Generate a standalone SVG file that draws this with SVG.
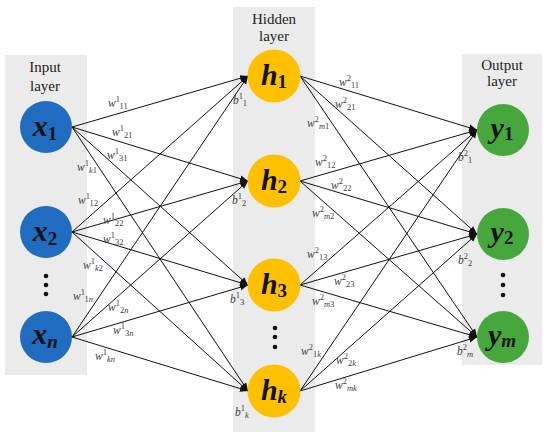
<svg xmlns="http://www.w3.org/2000/svg" width="550" height="437" viewBox="0 0 550 437">
<style>
.panel{fill:#ebebeb}
.ttl{font-family:"Liberation Serif",serif;font-size:15px;fill:#222;text-anchor:middle}
.nl{font-family:"Liberation Serif",serif;font-weight:bold;font-style:italic;font-size:30px;fill:#111;text-anchor:middle}
.ns{font-style:normal;font-size:19px}
.nsi{font-size:19px}
.w{font-family:"Liberation Serif",serif;font-size:11.5px;fill:#404040}
.i{font-style:italic}
.sm{font-size:8.5px}
.c line{stroke:#111;stroke-width:1}
.dot{fill:#111}
</style>
<defs>
<marker id="ah" viewBox="0 0 10 10" refX="10" refY="5" markerWidth="8" markerHeight="8" markerUnits="userSpaceOnUse" orient="auto">
<path d="M0,1 L10,5 L0,9 Z" fill="#111"/>
</marker>
</defs>
<rect class="panel" x="5" y="55" width="82" height="320"/>
<rect class="panel" x="233" y="7" width="82" height="425"/>
<rect class="panel" x="462" y="54" width="80" height="311"/>
<text class="ttl" x="45" y="72">Input</text>
<text class="ttl" x="45" y="91">layer</text>
<text class="ttl" x="274" y="24">Hidden</text>
<text class="ttl" x="274" y="41">layer</text>
<text class="ttl" x="502" y="70">Output</text>
<text class="ttl" x="502" y="86">layer</text>
<g class="c" id="connectors">
<line x1="72" y1="127" x2="248" y2="76" marker-end="url(#ah)"/>
<line x1="72" y1="127" x2="248" y2="181" marker-end="url(#ah)"/>
<line x1="72" y1="127" x2="248" y2="285" marker-end="url(#ah)"/>
<line x1="72" y1="127" x2="248" y2="391" marker-end="url(#ah)"/>
<line x1="72" y1="232" x2="248" y2="76" marker-end="url(#ah)"/>
<line x1="72" y1="232" x2="248" y2="181" marker-end="url(#ah)"/>
<line x1="72" y1="232" x2="248" y2="285" marker-end="url(#ah)"/>
<line x1="72" y1="232" x2="248" y2="391" marker-end="url(#ah)"/>
<line x1="72" y1="337" x2="248" y2="76" marker-end="url(#ah)"/>
<line x1="72" y1="337" x2="248" y2="181" marker-end="url(#ah)"/>
<line x1="72" y1="337" x2="248" y2="285" marker-end="url(#ah)"/>
<line x1="72" y1="337" x2="248" y2="391" marker-end="url(#ah)"/>
<line x1="300" y1="76" x2="477" y2="130" marker-end="url(#ah)"/>
<line x1="300" y1="76" x2="477" y2="234" marker-end="url(#ah)"/>
<line x1="300" y1="76" x2="477" y2="337" marker-end="url(#ah)"/>
<line x1="300" y1="181" x2="477" y2="130" marker-end="url(#ah)"/>
<line x1="300" y1="181" x2="477" y2="234" marker-end="url(#ah)"/>
<line x1="300" y1="181" x2="477" y2="337" marker-end="url(#ah)"/>
<line x1="300" y1="285" x2="477" y2="130" marker-end="url(#ah)"/>
<line x1="300" y1="285" x2="477" y2="234" marker-end="url(#ah)"/>
<line x1="300" y1="285" x2="477" y2="337" marker-end="url(#ah)"/>
<line x1="300" y1="391" x2="477" y2="130" marker-end="url(#ah)"/>
<line x1="300" y1="391" x2="477" y2="234" marker-end="url(#ah)"/>
<line x1="300" y1="391" x2="477" y2="337" marker-end="url(#ah)"/>
</g>
<g id="x1"><circle cx="46" cy="127" r="26" fill="#1f6cc0"/><text class="nl" x="45" y="136">x<tspan class="ns" dy="4">1</tspan></text></g>
<g id="x2"><circle cx="46" cy="232" r="26" fill="#1f6cc0"/><text class="nl" x="45" y="241">x<tspan class="ns" dy="4">2</tspan></text></g>
<g id="xn"><circle cx="46" cy="337" r="26" fill="#1f6cc0"/><text class="nl" x="45" y="344">x<tspan class="nsi" dy="4">n</tspan></text></g>
<g id="input-dots"><circle class="dot" cx="46" cy="276" r="2.3"/><circle class="dot" cx="46" cy="285" r="2.3"/><circle class="dot" cx="46" cy="294" r="2.3"/></g>
<g id="h1"><circle cx="274" cy="76" r="26.5" fill="#ffc000"/><text class="nl" x="274" y="85">h<tspan class="ns" dy="3">1</tspan></text></g>
<g id="h2"><circle cx="274" cy="181" r="26.5" fill="#ffc000"/><text class="nl" x="274" y="190">h<tspan class="ns" dy="3">2</tspan></text></g>
<g id="h3"><circle cx="274" cy="285" r="26.5" fill="#ffc000"/><text class="nl" x="274" y="294">h<tspan class="ns" dy="3">3</tspan></text></g>
<g id="hk"><circle cx="274" cy="391" r="26.5" fill="#ffc000"/><text class="nl" x="274" y="400">h<tspan class="nsi" dy="3">k</tspan></text></g>
<g id="hidden-dots"><circle class="dot" cx="275" cy="328" r="2.3"/><circle class="dot" cx="275" cy="337" r="2.3"/><circle class="dot" cx="275" cy="347" r="2.3"/></g>
<g id="y1"><circle cx="503" cy="130" r="26" fill="#46a83c"/><text class="nl" x="502" y="138">y<tspan class="ns" dy="2">1</tspan></text></g>
<g id="y2"><circle cx="503" cy="234" r="26" fill="#46a83c"/><text class="nl" x="502" y="242">y<tspan class="ns" dy="2">2</tspan></text></g>
<g id="ym"><circle cx="503" cy="337" r="26" fill="#46a83c"/><text class="nl" x="502" y="345">y<tspan class="nsi" dy="2">m</tspan></text></g>
<g id="output-dots"><circle class="dot" cx="503" cy="275" r="2.3"/><circle class="dot" cx="503" cy="285" r="2.3"/><circle class="dot" cx="503" cy="295" r="2.3"/></g>
<g id="weights1">
<text class="w" x="108" y="107"><tspan class="i">w</tspan><tspan class="sm" dy="-5">1</tspan><tspan class="sm" dy="7">11</tspan></text>
<text class="w" x="112" y="136"><tspan class="i">w</tspan><tspan class="sm" dy="-5">1</tspan><tspan class="sm" dy="7">21</tspan></text>
<text class="w" x="107" y="159"><tspan class="i">w</tspan><tspan class="sm" dy="-5">1</tspan><tspan class="sm" dy="7">31</tspan></text>
<text class="w" x="77" y="171"><tspan class="i">w</tspan><tspan class="sm" dy="-5">1</tspan><tspan class="sm i" dy="7">k</tspan><tspan class="sm">1</tspan></text>
<text class="w" x="78" y="204"><tspan class="i">w</tspan><tspan class="sm" dy="-5">1</tspan><tspan class="sm" dy="7">12</tspan></text>
<text class="w" x="103" y="224"><tspan class="i">w</tspan><tspan class="sm" dy="-5">1</tspan><tspan class="sm" dy="7">22</tspan></text>
<text class="w" x="103" y="243"><tspan class="i">w</tspan><tspan class="sm" dy="-5">1</tspan><tspan class="sm" dy="7">32</tspan></text>
<text class="w" x="83" y="269"><tspan class="i">w</tspan><tspan class="sm" dy="-5">1</tspan><tspan class="sm i" dy="7">k</tspan><tspan class="sm">2</tspan></text>
<text class="w" x="73" y="300"><tspan class="i">w</tspan><tspan class="sm" dy="-5">1</tspan><tspan class="sm" dy="7">1</tspan><tspan class="sm i">n</tspan></text>
<text class="w" x="108" y="311"><tspan class="i">w</tspan><tspan class="sm" dy="-5">1</tspan><tspan class="sm" dy="7">2</tspan><tspan class="sm i">n</tspan></text>
<text class="w" x="113" y="334"><tspan class="i">w</tspan><tspan class="sm" dy="-5">1</tspan><tspan class="sm" dy="7">3</tspan><tspan class="sm i">n</tspan></text>
<text class="w" x="95" y="360"><tspan class="i">w</tspan><tspan class="sm" dy="-5">1</tspan><tspan class="sm i" dy="7">kn</tspan></text>
</g>
<g id="weights2">
<text class="w" x="339" y="86"><tspan class="i">w</tspan><tspan class="sm" dy="-5">2</tspan><tspan class="sm" dy="7">11</tspan></text>
<text class="w" x="335" y="108"><tspan class="i">w</tspan><tspan class="sm" dy="-5">2</tspan><tspan class="sm" dy="7">21</tspan></text>
<text class="w" x="307" y="127"><tspan class="i">w</tspan><tspan class="sm" dy="-5">2</tspan><tspan class="sm i" dy="7">m</tspan><tspan class="sm">1</tspan></text>
<text class="w" x="315" y="166"><tspan class="i">w</tspan><tspan class="sm" dy="-5">2</tspan><tspan class="sm" dy="7">12</tspan></text>
<text class="w" x="331" y="189"><tspan class="i">w</tspan><tspan class="sm" dy="-5">2</tspan><tspan class="sm" dy="7">22</tspan></text>
<text class="w" x="312" y="217"><tspan class="i">w</tspan><tspan class="sm" dy="-5">2</tspan><tspan class="sm i" dy="7">m</tspan><tspan class="sm">2</tspan></text>
<text class="w" x="307" y="258"><tspan class="i">w</tspan><tspan class="sm" dy="-5">2</tspan><tspan class="sm" dy="7">13</tspan></text>
<text class="w" x="334" y="285"><tspan class="i">w</tspan><tspan class="sm" dy="-5">2</tspan><tspan class="sm" dy="7">23</tspan></text>
<text class="w" x="312" y="305"><tspan class="i">w</tspan><tspan class="sm" dy="-5">2</tspan><tspan class="sm i" dy="7">m</tspan><tspan class="sm">3</tspan></text>
<text class="w" x="301" y="355"><tspan class="i">w</tspan><tspan class="sm" dy="-5">2</tspan><tspan class="sm" dy="7">1</tspan><tspan class="sm i">k</tspan></text>
<text class="w" x="336" y="364"><tspan class="i">w</tspan><tspan class="sm" dy="-5">2</tspan><tspan class="sm" dy="7">2</tspan><tspan class="sm i">k</tspan></text>
<text class="w" x="335" y="389"><tspan class="i">w</tspan><tspan class="sm" dy="-5">2</tspan><tspan class="sm i" dy="7">mk</tspan></text>
</g>
<g id="biases">
<text class="w" x="233" y="104"><tspan class="i">b</tspan><tspan class="sm" dy="-5">1</tspan><tspan class="sm" dy="7">1</tspan></text>
<text class="w" x="232" y="204"><tspan class="i">b</tspan><tspan class="sm" dy="-5">1</tspan><tspan class="sm" dy="7">2</tspan></text>
<text class="w" x="230" y="303"><tspan class="i">b</tspan><tspan class="sm" dy="-5">1</tspan><tspan class="sm" dy="7">3</tspan></text>
<text class="w" x="235" y="416"><tspan class="i">b</tspan><tspan class="sm" dy="-5">1</tspan><tspan class="sm i" dy="7">k</tspan></text>
<text class="w" x="458" y="161"><tspan class="i">b</tspan><tspan class="sm" dy="-5">2</tspan><tspan class="sm" dy="7">1</tspan></text>
<text class="w" x="458" y="264"><tspan class="i">b</tspan><tspan class="sm" dy="-5">2</tspan><tspan class="sm" dy="7">2</tspan></text>
<text class="w" x="457" y="355"><tspan class="i">b</tspan><tspan class="sm" dy="-5">2</tspan><tspan class="sm i" dy="7">m</tspan></text>
</g>
</svg>
